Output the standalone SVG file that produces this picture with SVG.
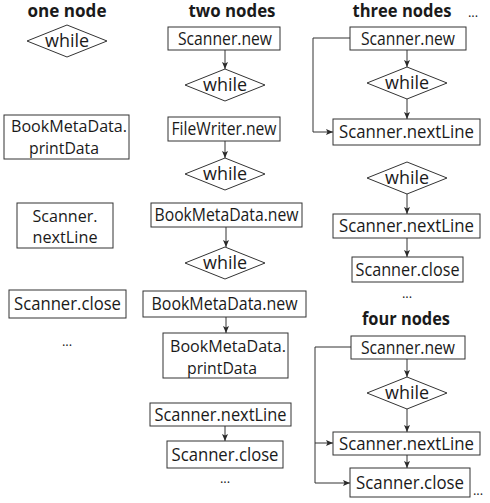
<svg xmlns="http://www.w3.org/2000/svg" width="490" height="503" viewBox="0 0 490 503">
<defs>
<marker id="ah" markerUnits="userSpaceOnUse" markerWidth="8" markerHeight="7" refX="7" refY="3.5" orient="auto"><path d="M0,0.5 L7,3.5 L0,6.5 L1.5,3.5 z" fill="#2a2a2a"/></marker>
</defs>
<style>
.n rect, .n polygon {fill:#fff; stroke:#333; stroke-width:1;}
text {font-family:"Open Sans","Noto Sans",sans-serif; fill:#1a1a1a;}
.n text {font-size:17.5px; text-anchor:middle;}
.n text.m {font-size:15.5px;}
.t {font-size:17px; font-weight:bold; text-anchor:middle;}
.d {font-size:13px; text-anchor:middle;}
.c path {fill:none; stroke:#333; stroke-width:1; marker-end:url(#ah);}
</style>
<rect width="490" height="503" fill="#fff"/>
<g id="labels">
<text class="t" x="67" y="17" textLength="79" lengthAdjust="spacingAndGlyphs">one node</text>
<text class="t" x="232" y="17" textLength="87" lengthAdjust="spacingAndGlyphs">two nodes</text>
<text class="t" x="402" y="17" textLength="99" lengthAdjust="spacingAndGlyphs">three nodes</text>
<text class="d" x="473" y="17">...</text>
<text class="t" x="406" y="325" textLength="88" lengthAdjust="spacingAndGlyphs">four nodes</text>
<text class="d" x="67" y="346">...</text>
<text class="d" x="225" y="483">...</text>
<text class="d" x="407" y="298">...</text>
<text class="d" x="478" y="495">...</text>
</g>
<g id="connectors" class="c">
<path d="M225,50 V69"/>
<path d="M225,141 V158"/>
<path d="M226,227 V247"/>
<path d="M226,317 V333"/>
<path d="M225,426 V441"/>
<path d="M407,50 V67"/>
<path d="M407,99 V119"/>
<path d="M350,38 H313 V132 H333"/>
<path d="M407,194 V214"/>
<path d="M407,238 V257"/>
<path d="M407,359 V377"/>
<path d="M407,409 V432"/>
<path d="M407,455 V468"/>
<path d="M351,347 H315 V483 H350"/>
<path d="M315,443 H333"/>
</g>
<g id="n1_while" class="n"><polygon points="27,41 67,25 107,41 67,57"/><text x="67" y="47" textLength="44" lengthAdjust="spacingAndGlyphs">while</text></g>
<g id="n1_print" class="n"><rect x="4" y="115" width="125" height="44"/><text class="m" x="69" y="132" textLength="116" lengthAdjust="spacingAndGlyphs">BookMetaData.</text><text class="m" x="64" y="153.5" textLength="70" lengthAdjust="spacingAndGlyphs">printData</text></g>
<g id="n1_next" class="n"><rect x="17" y="203" width="96" height="45"/><text class="m" x="65" y="221.5" textLength="65" lengthAdjust="spacingAndGlyphs">Scanner.</text><text class="m" x="65" y="243" textLength="65" lengthAdjust="spacingAndGlyphs">nextLine</text></g>
<g id="n1_close" class="n"><rect x="9" y="290" width="117" height="28"/><text x="67.5" y="310" textLength="107" lengthAdjust="spacingAndGlyphs">Scanner.close</text></g>
<g id="n2_scanner_new" class="n"><rect x="168" y="27" width="112" height="23"/><text x="225" y="44.5" textLength="94" lengthAdjust="spacingAndGlyphs">Scanner.new</text></g>
<g id="n2_while1" class="n"><polygon points="185,85 225,69 265,85 225,101"/><text x="225" y="91" textLength="44" lengthAdjust="spacingAndGlyphs">while</text></g>
<g id="n2_filewriter" class="n"><rect x="168" y="117" width="112" height="24"/><text x="224" y="135" textLength="105" lengthAdjust="spacingAndGlyphs">FileWriter.new</text></g>
<g id="n2_while2" class="n"><polygon points="185,174 225,158 265,174 225,190"/><text x="225" y="180" textLength="44" lengthAdjust="spacingAndGlyphs">while</text></g>
<g id="n2_bmd_new1" class="n"><rect x="151" y="203" width="151" height="24"/><text x="226.5" y="221" textLength="144" lengthAdjust="spacingAndGlyphs">BookMetaData.new</text></g>
<g id="n2_while3" class="n"><polygon points="185,263 225,247 265,263 225,279"/><text x="225" y="269" textLength="44" lengthAdjust="spacingAndGlyphs">while</text></g>
<g id="n2_bmd_new2" class="n"><rect x="143" y="291" width="163" height="26"/><text x="224.5" y="310" textLength="146" lengthAdjust="spacingAndGlyphs">BookMetaData.new</text></g>
<g id="n2_print" class="n"><rect x="163" y="333" width="125" height="45"/><text class="m" x="228" y="352" textLength="116" lengthAdjust="spacingAndGlyphs">BookMetaData.</text><text class="m" x="222" y="373.5" textLength="70" lengthAdjust="spacingAndGlyphs">printData</text></g>
<g id="n2_nextline" class="n"><rect x="150" y="403" width="141" height="23"/><text x="220.5" y="420.5" textLength="132" lengthAdjust="spacingAndGlyphs">Scanner.nextLine</text></g>
<g id="n2_close" class="n"><rect x="167" y="441" width="116" height="27"/><text x="225" y="460.5" textLength="107" lengthAdjust="spacingAndGlyphs">Scanner.close</text></g>
<g id="n3_scanner_new" class="n"><rect x="350" y="27" width="116" height="23"/><text x="408" y="44.5" textLength="94" lengthAdjust="spacingAndGlyphs">Scanner.new</text></g>
<g id="n3_while1" class="n"><polygon points="367,83 407,67 447,83 407,99"/><text x="407" y="89" textLength="44" lengthAdjust="spacingAndGlyphs">while</text></g>
<g id="n3_nextline1" class="n"><rect x="333" y="119" width="147" height="26"/><text x="406.5" y="138" textLength="135" lengthAdjust="spacingAndGlyphs">Scanner.nextLine</text></g>
<g id="n3_while2" class="n"><polygon points="367,178 407,162 447,178 407,194"/><text x="407" y="184" textLength="44" lengthAdjust="spacingAndGlyphs">while</text></g>
<g id="n3_nextline2" class="n"><rect x="333" y="214" width="147" height="24"/><text x="406.5" y="232" textLength="135" lengthAdjust="spacingAndGlyphs">Scanner.nextLine</text></g>
<g id="n3_close" class="n"><rect x="352" y="257" width="111" height="25"/><text x="407.5" y="275.5" textLength="104" lengthAdjust="spacingAndGlyphs">Scanner.close</text></g>
<g id="n4_scanner_new" class="n"><rect x="351" y="336" width="114" height="23"/><text x="408" y="353.5" textLength="94" lengthAdjust="spacingAndGlyphs">Scanner.new</text></g>
<g id="n4_while" class="n"><polygon points="367,393 407,377 447,393 407,409"/><text x="407" y="399" textLength="44" lengthAdjust="spacingAndGlyphs">while</text></g>
<g id="n4_nextline" class="n"><rect x="333" y="432" width="147" height="23"/><text x="406.5" y="449.5" textLength="135" lengthAdjust="spacingAndGlyphs">Scanner.nextLine</text></g>
<g id="n4_close" class="n"><rect x="350" y="468" width="120" height="29"/><text x="410" y="488.5" textLength="108" lengthAdjust="spacingAndGlyphs">Scanner.close</text></g>
</svg>
